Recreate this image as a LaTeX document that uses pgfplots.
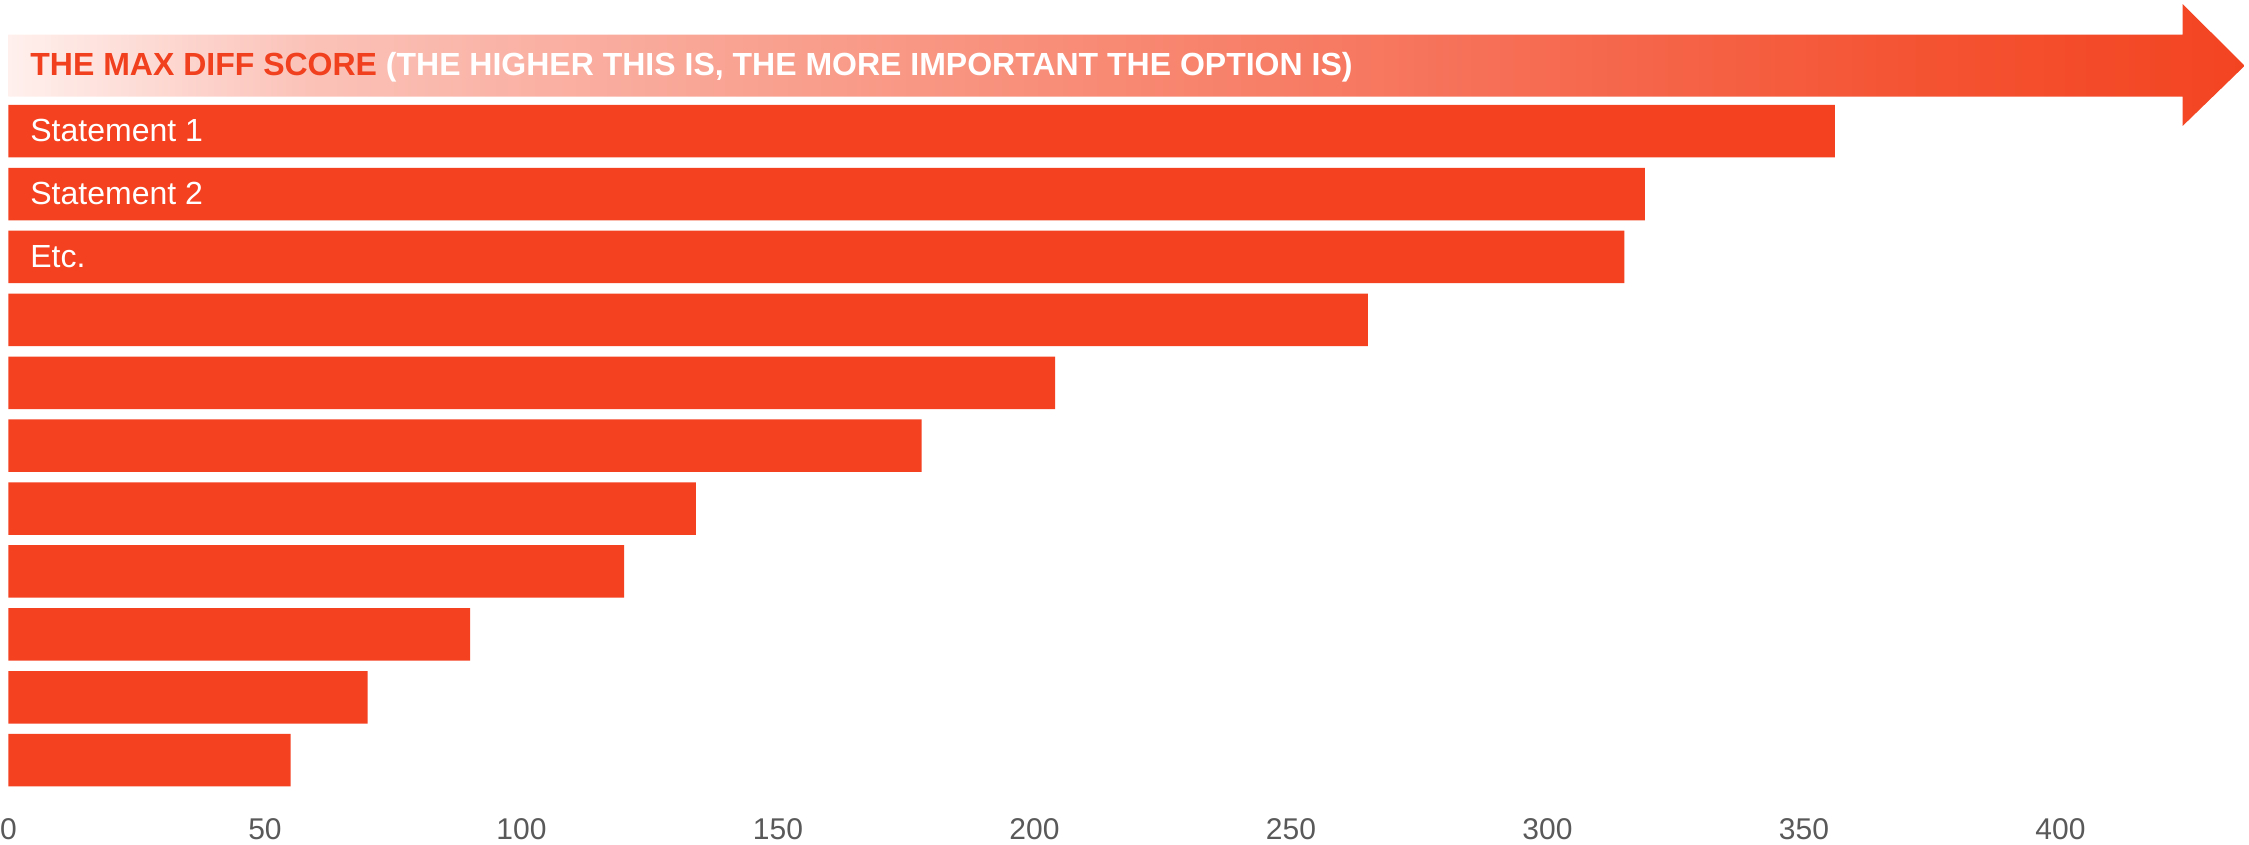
\documentclass[border=0pt]{standalone}
\usepackage{fontspec}
\setmainfont{Liberation Sans}
\usepackage{pgfplots}
\usepackage{pgfplotstable}
\pgfplotsset{compat=1.18}
\definecolor{barc}{RGB}{244,65,32}
\definecolor{tickc}{RGB}{89,89,89}
\definecolor{titc}{RGB}{240,64,30}
\definecolor{s0}{RGB}{255,240,237}
\definecolor{s1}{RGB}{251,194,184}
\definecolor{s2}{RGB}{249,165,149}
\definecolor{s3}{RGB}{248,138,116}
\definecolor{s4}{RGB}{246,110,85}
\definecolor{s5}{RGB}{244,84,51}
\definecolor{s6}{RGB}{243,68,34}
\pgfdeclarehorizontalshading{arrowshade}{100bp}{color(0bp)=(s0); color(25bp)=(s0); color(31.7bp)=(s1); color(40.6bp)=(s2); color(49.5bp)=(s3); color(58.5bp)=(s4); color(67.4bp)=(s5); color(75bp)=(s6); color(100bp)=(s6)}
\pgfplotstableread{
y v
11 356
10 319
9 315
8 265
7 204
6 178
5 134
4 120
3 90
2 70
1 55
}\datatab
\begin{document}
\begin{tikzpicture}
\path[use as bounding box] (-4.25pt,-13.5pt) rectangle (1120.25pt,409pt);
\begin{axis}[
  scale only axis,
  width=1120.4pt, height=409pt,
  xmin=0, xmax=436.8,
  ymin=0.081, ymax=13.086,
  xbar,
  clip=false,
  axis line style={draw=none},
  major tick length=0pt,
  ytick=\empty,
  xtick={0,50,...,400},
  /pgf/number format/assume math mode=true,
  xticklabel style={anchor=north, inner sep=0pt, text=tickc, font=\fontsize{15}{18}\selectfont},
]
\shade[shading=arrowshade] (axis cs:0,11.549) -- (axis cs:423.8,11.549) -- (axis cs:423.8,11.083) -- (axis cs:435.9,12.04) -- (axis cs:423.8,13.022) -- (axis cs:423.8,12.534) -- (axis cs:0,12.534) -- cycle;
\addplot[fill=barc, draw=none, bar width=26.25pt] table[x=v, y=y] {\datatab};
\node[anchor=base west, inner sep=0pt, font=\bfseries\fontsize{16}{19}\selectfont] at (axis cs:4.19,11.893) {\textcolor{titc}{THE MAX DIFF SCORE} \textcolor{white}{(THE HIGHER THIS IS, THE MORE IMPORTANT THE OPTION IS)}};
\node[anchor=base west, inner sep=0pt, text=white, font=\fontsize{16}{19}\selectfont] at (axis cs:4.19,10.833) {Statement 1};
\node[anchor=base west, inner sep=0pt, text=white, font=\fontsize{16}{19}\selectfont] at (axis cs:4.19,9.833) {Statement 2};
\node[anchor=base west, inner sep=0pt, text=white, font=\fontsize{16}{19}\selectfont] at (axis cs:4.19,8.833) {Etc.};
\end{axis}
\end{tikzpicture}
\end{document}
